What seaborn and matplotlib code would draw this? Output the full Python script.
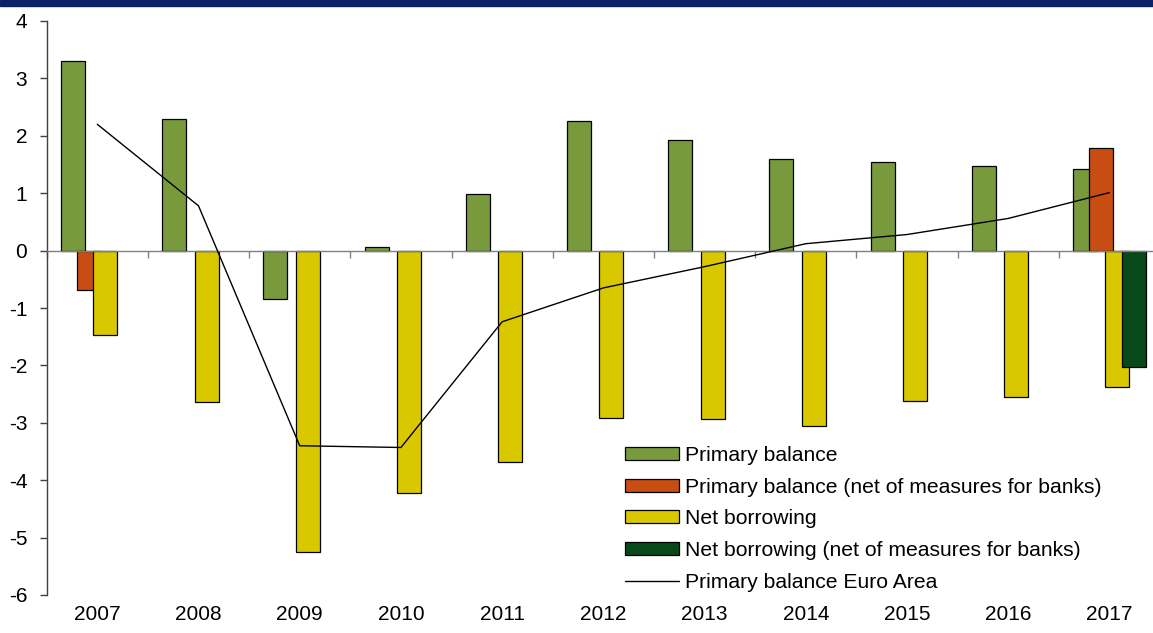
import numpy as np
import pandas as pd
import matplotlib
matplotlib.use("Agg")
import matplotlib.pyplot as plt
from matplotlib.patches import Rectangle
import seaborn as sns

years = [2007, 2008, 2009, 2010, 2011, 2012, 2013, 2014, 2015, 2016, 2017]
primary_balance = [3.3, 2.3, -0.85, 0.07, 0.98, 2.25, 1.92, 1.6, 1.54, 1.47, 1.42]
primary_balance_net = [-0.68, np.nan, np.nan, np.nan, np.nan, np.nan, np.nan, np.nan, np.nan, np.nan, 1.79]
net_borrowing = [-1.47, -2.64, -5.25, -4.22, -3.68, -2.92, -2.93, -3.05, -2.62, -2.55, -2.38]
net_borrowing_net = [np.nan, np.nan, np.nan, np.nan, np.nan, np.nan, np.nan, np.nan, np.nan, np.nan, -2.03]
ea_primary_balance = [2.2, 0.78, -3.4, -3.43, -1.24, -0.65, -0.28, 0.12, 0.28, 0.56, 1.01]

labels = ["Primary balance",
          "Primary balance (net of measures for banks)",
          "Net borrowing",
          "Net borrowing (net of measures for banks)",
          "Primary balance Euro Area"]
colors = ["#789a3d", "#c84d12", "#d9c800", "#08491a"]

sns.set_theme(style="white")
plt.rcParams['font.family'] = ['Liberation Sans', 'DejaVu Sans']
plt.rcParams['text.color'] = 'black'
plt.rcParams['xtick.color'] = 'black'
plt.rcParams['ytick.color'] = 'black'

fig = plt.figure(figsize=(11.53, 6.33), dpi=100)
ax = fig.add_axes([46.7 / 1153, 1 - 595 / 633, (1160 - 46.7) / 1153, (595 - 21) / 633])

# top band
fig.add_artist(Rectangle((0, 1 - 6 / 633), 1, 6 / 633, transform=fig.transFigure,
                         color="#0b2265", zorder=10))

W = 0.237
offsets = [-0.24, -0.08, 0.08, 0.24]
series = [primary_balance, primary_balance_net, net_borrowing, net_borrowing_net]
yrs = np.array(years, dtype=float)
for vals, col, lab, off in zip(series, colors, labels[:4], offsets):
    d = pd.DataFrame({"x": yrs + off, "y": vals})
    sns.barplot(data=d, x="x", y="y", native_scale=True, width=W, color=col,
                saturation=1, edgecolor="black", linewidth=0.9, errorbar=None,
                label=lab, ax=ax)

sns.lineplot(x=yrs, y=ea_primary_balance, color="black", linewidth=1.0,
             label=labels[4], ax=ax, zorder=5)

ax.set_xlim(2006.5, 2017.5)
ax.set_ylim(-6, 4)
ax.set_yticks(range(-6, 5))
ax.set_yticklabels([str(v) for v in range(-6, 5)], fontsize=15)
ax.set_xlabel("")
ax.set_ylabel("")

for s in ["top", "right"]:
    ax.spines[s].set_visible(False)
ax.spines["left"].set_color("#404040")
ax.spines["left"].set_linewidth(1.0)
ax.spines["bottom"].set_position(("data", 0))
ax.spines["bottom"].set_color("#808080")
ax.spines["bottom"].set_linewidth(1.0)
ax.set_xticks(np.arange(2006.5, 2018, 1.0))
ax.set_xticklabels([])
ax.tick_params(axis="x", bottom=True, direction="out", length=5, width=1, color="#808080")
ax.tick_params(axis="y", left=True, direction="out", length=5, width=1, color="#404040",
               pad=9, labelcolor="black")
ax.grid(False)

sec = ax.secondary_xaxis("bottom")
sec.set_xticks(years)
sec.set_xticklabels([str(y) for y in years], fontsize=15, color="black")
sec.tick_params(length=0, pad=7)
sec.spines["bottom"].set_visible(False)

h, l = ax.get_legend_handles_labels()
order = [l.index(lab) for lab in labels]
leg = ax.legend([h[i] for i in order], [l[i] for i in order],
                loc="upper left", bbox_to_anchor=(625 / 1153, 1 - 446 / 633),
                bbox_transform=fig.transFigure, frameon=False, fontsize=15.2,
                handlelength=2.55, handleheight=0.58, labelspacing=0.6,
                handletextpad=0.3, borderaxespad=0, borderpad=0)

fig.savefig("out.png", dpi=100)
